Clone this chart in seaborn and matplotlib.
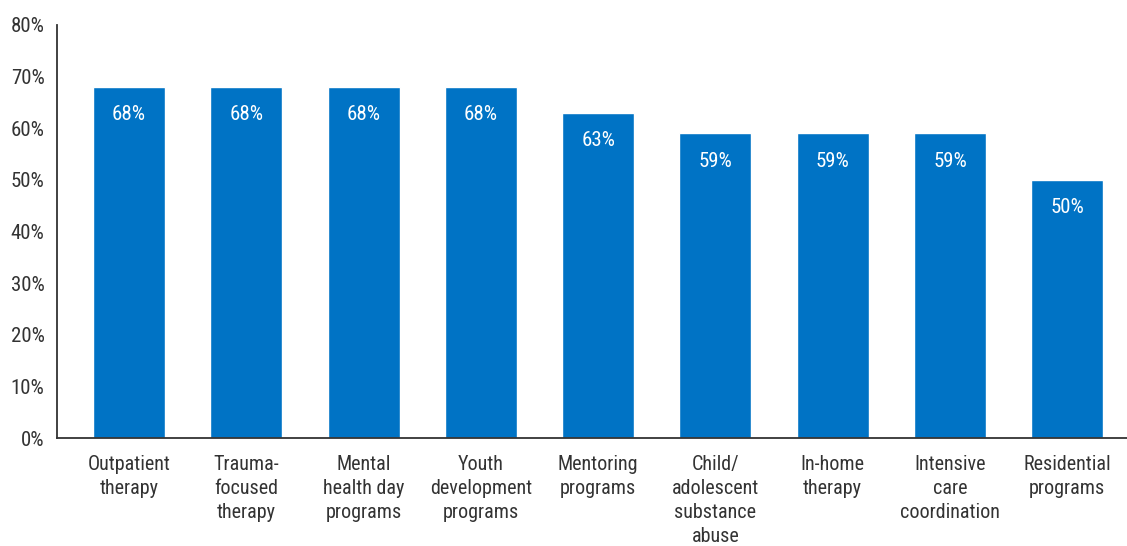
import matplotlib
matplotlib.use("Agg")
import matplotlib.pyplot as plt
import matplotlib.font_manager as fm
import seaborn as sns
import pandas as pd

categories = [
    "Outpatient\ntherapy",
    "Trauma-\nfocused\ntherapy",
    "Mental\nhealth day\nprograms",
    "Youth\ndevelopment\nprograms",
    "Mentoring\nprograms",
    "Child/\nadolescent\nsubstance\nabuse",
    "In-home\ntherapy",
    "Intensive\ncare\ncoordination",
    "Residential\nprograms",
]
values = [68, 68, 68, 68, 63, 59, 59, 59, 50]
y_ticks = [0, 10, 20, 30, 40, 50, 60, 70, 80]
y_tick_labels = [f"{t}%" for t in y_ticks]

bar_color = "#0073C5"
axis_color = "#333333"
text_color = "#333333"

sns.set_theme(style="white")
names = {f.name for f in fm.fontManager.ttflist}
family = [f for f in ["Liberation Sans Narrow", "Roboto Condensed", "DejaVu Sans Condensed", "DejaVu Sans"] if f in names]
if "DejaVu Sans" not in family:
    family.append("DejaVu Sans")
plt.rcParams["font.family"] = family

df = pd.DataFrame({"category": categories, "value": values})

fig = plt.figure(figsize=(11.27, 5.46), dpi=100)
ax = fig.add_axes([57 / 1127, 1 - 438 / 546, 1 - 57 / 1127, (438 - 25) / 546])

sns.barplot(data=df, x="category", y="value", color=bar_color, saturation=1,
            width=0.614, ax=ax)

ax.set_ylim(0, 80)
ax.set_xlim(-0.614, len(categories) - 1 + 0.51)
ax.set_yticks(y_ticks)
ax.set_yticklabels(y_tick_labels, fontsize=15, color=text_color)
ax.tick_params(axis="y", direction="in", length=12, width=1.3, color=axis_color, pad=9)
ax.tick_params(axis="x", length=0, pad=12)
for lbl in ax.get_xticklabels():
    lbl.set_fontsize(14.5)
    lbl.set_color(text_color)
    lbl.set_linespacing(1.34)
ax.set_xlabel("")
ax.set_ylabel("")

for side in ["top", "right"]:
    ax.spines[side].set_visible(False)
for side in ["left", "bottom"]:
    ax.spines[side].set_color(axis_color)
    ax.spines[side].set_linewidth(1.3)

for i, v in enumerate(values):
    ax.annotate(f"{v}%", xy=(i, v), xytext=(0, -20), textcoords="offset points",
                ha="center", va="center", color="white", fontsize=15)

fig.savefig("out.png", dpi=100)
